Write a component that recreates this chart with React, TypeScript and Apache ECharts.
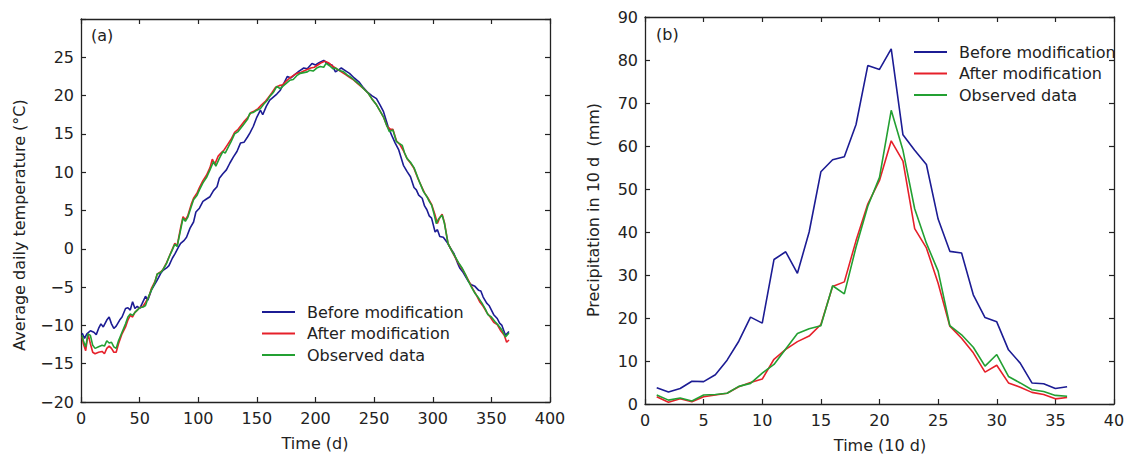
import React, { useEffect, useRef } from "react";
import * as echarts from "echarts";

const seriesNames = ["Before modification", "After modification", "Observed data"];
const seriesColors = ["#1c1c94", "#e6202a", "#23a032"];

// Panel (a): [day, average daily temperature °C]
const tempBefore: [number, number][] = [
  [1, -11.0], [3, -11.7], [5, -11.1], [8, -10.7], [11, -10.9], [13, -11.2], [15, -10.4], [17, -9.8], [19, -10.2], [22, -9.3],
  [24, -8.9], [26, -9.8], [28, -10.4], [30, -10.1], [33, -9.3], [35, -8.9], [38, -7.8], [40, -7.7], [42, -8.0], [44, -6.9],
  [46, -7.8], [48, -7.5], [50, -7.8], [52, -7.2], [55, -6.2], [57, -6.7], [60, -5.4], [63, -4.6], [65, -4.1], [68, -3.2],
  [70, -2.8], [73, -2.5], [75, -2.2], [78, -1.2], [80, -0.7], [83, 0.2], [85, 0.7], [88, 1.1], [90, 1.5], [93, 2.7],
  [96, 3.5], [98, 4.8], [101, 5.3], [104, 6.2], [107, 6.5], [110, 6.8], [113, 7.6], [116, 8.1], [118, 9.2], [121, 9.8],
  [124, 10.3], [127, 11.2], [130, 12.0], [133, 12.7], [136, 13.8], [139, 13.9], [142, 14.6], [144, 15.1], [147, 16.0], [150, 17.2],
  [153, 18.1], [155, 17.5], [158, 18.6], [161, 19.4], [164, 19.8], [167, 20.2], [170, 20.7], [173, 21.6], [176, 22.5], [179, 22.3],
  [182, 22.7], [186, 23.2], [190, 23.6], [193, 23.5], [197, 24.2], [200, 24.0], [203, 24.3], [207, 24.6], [210, 24.2], [214, 24.0],
  [217, 23.1], [220, 23.4], [222, 23.6], [226, 23.2], [229, 22.9], [233, 22.3], [237, 21.8], [240, 21.2], [244, 20.5], [248, 20.0],
  [252, 19.6], [255, 18.8], [258, 17.9], [262, 15.9], [265, 14.8], [268, 13.8], [271, 12.9], [275, 10.9], [278, 10.1], [281, 9.4],
  [284, 8.0], [286, 7.7], [288, 7.0], [291, 6.6], [293, 5.6], [295, 5.1], [297, 4.3], [299, 4.0], [302, 2.2], [304, 2.5],
  [306, 1.6], [309, 1.5], [312, 0.9], [315, 0.1], [318, -0.6], [321, -1.8], [323, -2.5], [326, -3.1], [329, -3.9], [331, -4.4],
  [333, -4.7], [336, -4.9], [339, -5.4], [341, -5.5], [343, -6.3], [346, -7.1], [348, -7.4], [352, -8.6], [355, -9.1], [357, -9.7],
  [359, -10.0], [362, -11.3], [365, -10.8],
];

const tempAfter: [number, number][] = [
  [1, -11.5], [2, -12.4], [4, -13.3], [6, -11.1], [8, -12.4], [10, -13.5], [12, -13.7], [15, -13.5], [18, -13.4], [20, -13.7],
  [22, -13.0], [24, -12.7], [26, -13.0], [28, -13.5], [30, -13.5], [32, -12.4], [35, -11.1], [38, -10.2], [40, -9.3], [42, -8.7],
  [44, -8.9], [46, -8.3], [48, -8.0], [50, -7.7], [53, -7.5], [55, -7.0], [58, -6.2], [60, -5.2], [63, -4.3], [65, -3.3],
  [68, -3.0], [70, -2.7], [73, -1.8], [75, -1.1], [78, 0.0], [80, 0.7], [82, 0.4], [85, 2.8], [87, 4.2], [89, 3.8],
  [91, 4.3], [94, 5.8], [96, 6.6], [99, 7.3], [101, 8.0], [104, 8.9], [107, 9.6], [110, 10.6], [112, 11.7], [114, 11.0],
  [117, 12.1], [120, 12.6], [122, 12.9], [125, 13.6], [128, 14.3], [131, 15.2], [134, 15.6], [136, 16.0], [139, 16.6], [142, 17.1],
  [145, 17.8], [148, 18.0], [151, 18.3], [154, 18.8], [157, 19.2], [160, 19.8], [163, 20.4], [166, 21.1], [169, 21.3], [172, 21.4],
  [175, 21.9], [178, 22.3], [181, 22.6], [184, 22.9], [187, 23.0], [190, 23.2], [193, 23.4], [196, 23.6], [199, 23.7], [202, 24.0],
  [205, 24.3], [208, 24.5], [211, 24.3], [214, 23.9], [217, 23.6], [220, 23.3], [223, 23.0], [226, 22.7], [229, 22.4], [232, 22.1],
  [235, 21.7], [238, 21.3], [241, 20.9], [245, 20.3], [248, 19.6], [252, 18.8], [255, 18.0], [258, 17.2], [261, 16.0], [264, 15.6],
  [266, 15.6], [269, 14.1], [272, 13.6], [275, 12.8], [278, 11.8], [281, 11.2], [284, 10.5], [287, 9.3], [290, 8.3], [293, 7.3],
  [296, 6.6], [299, 5.8], [302, 4.4], [304, 3.3], [306, 4.1], [308, 4.5], [310, 3.4], [313, 0.7], [316, -0.2], [319, -1.1],
  [322, -1.9], [325, -2.6], [328, -3.4], [331, -4.3], [334, -5.2], [337, -6.0], [340, -6.9], [343, -7.5], [346, -8.3], [349, -8.9],
  [352, -9.6], [355, -9.9], [358, -10.7], [361, -11.3], [363, -12.2], [365, -11.9],
];

const tempObserved: [number, number][] = [
  [1, -11.3], [2, -12.0], [4, -12.8], [6, -11.1], [8, -11.3], [10, -12.6], [12, -13.0], [15, -12.8], [18, -12.6], [20, -12.7],
  [22, -12.0], [24, -12.3], [26, -12.2], [28, -12.8], [30, -13.0], [32, -12.0], [35, -10.9], [38, -9.8], [40, -8.9], [42, -8.5],
  [44, -8.7], [46, -8.3], [48, -8.0], [50, -7.7], [53, -7.6], [55, -7.4], [58, -6.1], [60, -5.4], [63, -4.4], [65, -3.3],
  [68, -3.1], [70, -2.7], [73, -1.9], [75, -1.1], [78, -0.1], [80, 0.6], [82, 0.3], [85, 2.5], [87, 4.0], [89, 3.6],
  [91, 4.1], [94, 5.5], [96, 6.4], [99, 7.0], [101, 7.7], [104, 8.6], [107, 9.3], [110, 10.3], [113, 11.4], [115, 10.8],
  [118, 11.8], [121, 12.7], [123, 12.5], [126, 13.4], [128, 14.0], [131, 15.0], [134, 15.3], [136, 15.7], [139, 16.3], [142, 16.9],
  [144, 17.7], [147, 17.8], [150, 18.1], [153, 18.3], [156, 18.9], [159, 19.4], [161, 19.9], [164, 20.4], [167, 21.2], [170, 20.9],
  [172, 21.2], [175, 21.6], [178, 22.0], [181, 22.1], [184, 22.6], [187, 22.9], [190, 23.0], [193, 23.1], [195, 23.3], [198, 23.2],
  [201, 23.6], [204, 23.8], [207, 23.7], [209, 24.2], [212, 23.9], [215, 23.5], [217, 23.6], [220, 23.3], [224, 23.1], [227, 22.7],
  [231, 22.3], [234, 21.9], [238, 21.4], [241, 20.9], [245, 20.3], [248, 19.6], [252, 18.8], [255, 18.0], [258, 17.2], [261, 16.0],
  [263, 15.3], [266, 15.5], [269, 14.0], [271, 13.8], [274, 13.5], [276, 12.5], [278, 11.8], [281, 11.3], [284, 10.6], [287, 9.4],
  [289, 8.6], [292, 7.5], [295, 6.8], [297, 6.2], [299, 5.7], [301, 4.6], [303, 3.3], [305, 3.9], [308, 4.4], [310, 3.3],
  [313, 0.7], [316, -0.2], [319, -1.0], [322, -1.8], [325, -2.5], [328, -3.4], [330, -4.1], [333, -5.0], [336, -5.8], [339, -6.4],
  [342, -7.1], [345, -7.9], [347, -8.6], [350, -8.9], [353, -9.5], [356, -10.0], [359, -10.6], [362, -11.5], [365, -11.0],
];

// Panel (b): 10-day periods 1..36, precipitation (mm)
const periods = Array.from({ length: 36 }, (_, i) => i + 1);
const precipBefore = [3.8, 2.8, 3.6, 5.3, 5.2, 6.8, 10.2, 14.6, 20.2, 18.8, 33.6, 35.4, 30.4, 40.0, 54.0, 56.8, 57.5, 65.0, 78.7, 77.8, 82.6, 62.6, 59.0, 55.7, 43.0, 35.5, 35.1, 25.4, 20.1, 19.1, 12.6, 9.5, 4.9, 4.7, 3.6, 4.0];
const precipAfter = [1.7, 0.4, 1.2, 0.5, 1.7, 2.1, 2.5, 4.0, 5.0, 5.8, 10.4, 12.7, 14.5, 15.8, 18.5, 27.3, 28.4, 38.0, 46.5, 52.0, 61.2, 56.5, 40.8, 36.3, 28.1, 18.1, 15.3, 11.9, 7.4, 9.0, 4.9, 3.9, 2.7, 2.2, 1.2, 1.5];
const precipObserved = [2.1, 0.9, 1.4, 0.7, 2.1, 2.2, 2.5, 4.1, 4.8, 7.2, 9.2, 12.8, 16.4, 17.5, 18.2, 27.5, 25.6, 36.5, 46.0, 52.7, 68.3, 59.0, 45.4, 37.4, 30.9, 18.2, 16.1, 13.2, 8.8, 11.5, 6.4, 4.9, 3.3, 2.9, 2.0, 1.8];

const FONT = "DejaVu Sans";
const TXT = "#222";

export default function App() {
  const ref = useRef<HTMLDivElement>(null);
  useEffect(() => {
    if (!ref.current) return;
    const chart = echarts.init(ref.current, null, { renderer: "svg" });
    const axisLine = { show: true, onZero: false, lineStyle: { color: "#222", width: 1.3 } };
    const tick = { show: true, inside: true, length: 5, lineStyle: { color: "#222", width: 1.2 } };
    const lbl = { color: TXT, fontFamily: FONT, fontSize: 16 };
    const mkX = (gridIndex: number, min: number, max: number, interval: number, position: string, show: boolean) => ({
      type: "value", gridIndex, min, max, interval, position,
      axisLine, axisTick: tick, splitLine: { show: false },
      axisLabel: { show, ...lbl, margin: 8 },
    });
    const mkY = (gridIndex: number, min: number, max: number, interval: number, position: string, show: boolean) => ({
      type: "value", gridIndex, min, max, interval, position,
      axisLine, axisTick: tick, splitLine: { show: false },
      axisLabel: { show, ...lbl, margin: 7, formatter: (v: number) => (gridIndex === 0 && v === 30 ? "" : String(v).replace("-", "\u2212")) },
    });
    const precipTable = [precipBefore, precipAfter, precipObserved];
    const tempTable = [tempBefore, tempAfter, tempObserved];
    const order = [0, 1, 2];
    const series: any[] = [];
    order.forEach((i) => {
      series.push({
        name: seriesNames[i], type: "line", xAxisIndex: 0, yAxisIndex: 0,
        data: tempTable[i], showSymbol: false, symbol: "none",
        lineStyle: { color: seriesColors[i], width: 1.6 }, itemStyle: { color: seriesColors[i] },
      });
    });
    order.forEach((i) => {
      series.push({
        name: seriesNames[i], type: "line", xAxisIndex: 2, yAxisIndex: 2,
        data: periods.map((p, k) => [p, precipTable[i][k]]), showSymbol: false, symbol: "none",
        lineStyle: { color: seriesColors[i], width: 1.6 }, itemStyle: { color: seriesColors[i] },
      });
    });
    const legendBase = {
      orient: "vertical", icon: "rect", itemWidth: 33, itemHeight: 2, itemGap: 5.5,
      data: seriesNames, selectedMode: false,
      textStyle: { color: TXT, fontFamily: FONT, fontSize: 16, padding: [0, 0, 0, 7] },
    };
    chart.setOption({
      animation: false,
      backgroundColor: "#fff",
      grid: [
        { left: 81, top: 19, width: 469, height: 383 },
        { left: 645, top: 17, width: 469, height: 387 },
      ],
      xAxis: [
        mkX(0, 0, 400, 50, "bottom", true),
        mkX(0, 0, 400, 50, "top", false),
        mkX(1, 0, 40, 5, "bottom", true),
        mkX(1, 0, 40, 5, "top", false),
      ],
      yAxis: [
        mkY(0, -20, 30, 5, "left", true),
        mkY(0, -20, 30, 5, "right", false),
        mkY(1, 0, 90, 10, "left", true),
        mkY(1, 0, 90, 10, "right", false),
      ],
      legend: [
        { ...legendBase, left: 257, top: 299 },
        { ...legendBase, left: 909, top: 39 },
      ],
      series,
      graphic: [
        { type: "text", x: 91, y: 35, style: { text: "(a)", fill: TXT, font: `16px "${FONT}"`, verticalAlign: "middle" } },
        { type: "text", x: 656, y: 34, style: { text: "(b)", fill: TXT, font: `16px "${FONT}"`, verticalAlign: "middle" } },
        { type: "text", x: 315, y: 443, style: { text: "Time (d)", fill: TXT, font: `16px "${FONT}"`, align: "center", verticalAlign: "middle" } },
        { type: "text", x: 880, y: 445, style: { text: "Time (10 d)", fill: TXT, font: `16px "${FONT}"`, align: "center", verticalAlign: "middle" } },
        { type: "text", x: 19, y: 225, rotation: Math.PI / 2, style: { text: "Average daily temperature (°C)", fill: TXT, font: `16px "${FONT}"`, align: "center", verticalAlign: "middle" } },
        { type: "text", x: 593, y: 210, rotation: Math.PI / 2, style: { text: "Precipitation in 10 d  (mm)", fill: TXT, font: `16px "${FONT}"`, align: "center", verticalAlign: "middle" } },
      ],
    });
    return () => chart.dispose();
  }, []);
  return <div ref={ref} style={{ width: 1128, height: 457, position: "absolute", left: 0, top: 0 }} />;
}
